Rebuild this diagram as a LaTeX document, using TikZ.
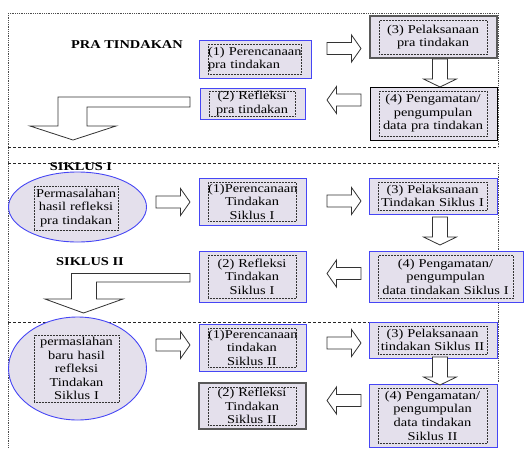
\documentclass[tikz,border=0pt]{standalone}
\usepackage{fontspec}
\setmainfont[FakeStretch=1.2]{Liberation Serif}
\usetikzlibrary{shapes.geometric}
\hyphenpenalty=10000
\exhyphenpenalty=10000
\definecolor{boxfill}{RGB}{228,224,236}
\definecolor{boxblue}{RGB}{70,70,245}
\tikzset{
  outerbox/.style={rectangle, fill=boxfill, line width=0.9pt, inner sep=0pt},
  bluebox/.style={draw=boxblue},
  darkbox/.style={draw=black!65, line width=1.2pt},
  blackbox/.style={draw=black, line width=1pt},
  innerbox/.style={rectangle, draw=black!80, densely dotted, line width=0.5pt, inner sep=0pt, font=\fontsize{12}{13.6}\selectfont},
  blk/.style={draw=black!80, fill=white, line width=0.8pt, line join=miter},
  sect/.style={dash pattern=on 3pt off 2pt, line width=0.6pt, black!85},
  edgeline/.style={densely dotted, line width=0.8pt, black!70},
  title/.style={font=\bfseries\fontsize{12}{13.6}\selectfont, inner sep=0pt},
  oval/.style={ellipse, draw=boxblue, fill=boxfill, line width=0.9pt, inner sep=0pt},
}
\newcommand\tbox[8]{%
  \pgfmathsetmacro\tbcx{(#2+#4)/2}%
  \pgfmathsetmacro\tbcy{(#3+#5)/2}%
  \pgfmathsetmacro\tbw{#4-#2}%
  \pgfmathsetmacro\tbh{#5-#3}%
  \pgfmathsetmacro\tbiw{#4-#2-19}%
  \pgfmathsetmacro\tbih{#5-#3-8}%
  \node[outerbox, #6, minimum width=\tbw pt, minimum height=\tbh pt] (#1) at (\tbcx,\tbcy) {};
  \node[innerbox, text width=\tbiw pt, minimum height=\tbih pt, align=#8] (#1t) at ([xshift=-0.5pt]#1.center) {#7};
}
\newcommand\rarr[2]{\draw[blk, shift={(#1,#2)}] (-17,-6) -- (7.5,-6) -- (7.5,-13.5) -- (17,0) -- (7.5,13.5) -- (7.5,6) -- (-17,6) -- cycle;}
\newcommand\larr[2]{\draw[blk, shift={(#1,#2)}, xscale=-1] (-17,-6) -- (7.5,-6) -- (7.5,-13.5) -- (17,0) -- (7.5,13.5) -- (7.5,6) -- (-17,6) -- cycle;}
\newcommand\darr[2]{\draw[blk, shift={(#1,#2)}] (-7.5,-14) -- (7.5,-14) -- (7.5,6) -- (16.5,6) -- (0,14) -- (-16.5,6) -- (-7.5,6) -- cycle;}
\begin{document}
\begin{tikzpicture}[x=1pt,y=-1pt]
\useasboundingbox (0,0) rectangle (525,448);
% section frames
\draw[edgeline] (8,13) -- (498,13);
\draw[edgeline] (8,13) -- (8,448);
\draw[edgeline] (498,13) -- (498,147);
\draw[sect] (8,147) -- (498,147);
\draw[sect] (8,163) -- (498,163);
\draw[edgeline] (498,163) -- (498,322);
\draw[sect] (8,322) -- (498,322);
\draw[edgeline] (498,322) -- (498,382);
% titles
\node[title] (tpra) at (127,45) {PRA TINDAKAN};
\node[title] (ts1) at (81,167) {SIKLUS I};
\node[title] (ts2) at (90,262) {SIKLUS II};
% PRA TINDAKAN
\tbox{p1}{199}{40}{311}{78}{bluebox}{\mbox{(1) Perencanaan}\\pra tindakan}{left}
\tbox{p3}{370}{16}{497}{58}{darkbox}{(3) Pelaksanaan\\pra tindakan}{center}
\tbox{p4}{370}{87}{497}{140}{blackbox}{(4) Pengamatan/\\pengumpulan\\data pra tindakan}{center}
\tbox{p2}{200}{88}{305}{119}{bluebox}{(2) Refleksi\\pra tindakan}{center}
\rarr{344}{48.5}
\darr{440}{73}
\larr{344}{100}
\draw[blk] (58,97) -- (190,97) -- (190,107) -- (87,107) -- (87,126) -- (116,126) -- (73,140) -- (30,126) -- (58,126) -- cycle;
% SIKLUS I
\node[oval, minimum width=138pt, minimum height=70pt] (e1) at (77.5,207) {};
\node[innerbox, text width=84pt, minimum height=44pt, align=center] (e1t) at (76,208) {Permasalahan\\hasil refleksi\\pra tindakan};
\tbox{s1a}{199}{178}{306}{225}{bluebox}{(1)Perencanaan\\Tindakan\\Siklus I}{center}
\tbox{s1c}{369}{178}{497}{214}{bluebox}{(3) Pelaksanaan\\Tindakan Siklus I}{center}
\tbox{s1d}{369}{251}{523}{302}{bluebox}{(4) Pengamatan/\\pengumpulan\\data tindakan Siklus I}{center}
\tbox{s1b}{199}{251}{306}{302}{bluebox}{(2) Refleksi\\Tindakan\\Siklus I}{center}
\rarr{173}{202}
\rarr{344}{201}
\darr{440}{231}
\larr{344}{273.5}
\draw[blk] (71.5,273.5) -- (190,273.5) -- (190,282) -- (96.5,282) -- (96.5,299) -- (123,299) -- (83.5,313) -- (45,299) -- (71.5,299) -- cycle;
% SIKLUS II
\node[oval, minimum width=138pt, minimum height=103pt] (e2) at (77.5,368.5) {};
\node[innerbox, text width=85pt, minimum height=67pt, align=center] (e2t) at (76.5,368.5) {permaslahan\\baru hasil\\refleksi\\Tindakan\\Siklus I};
\tbox{s2a}{199}{324}{306}{371}{bluebox}{(1)Perencanaan\\tindakan\\Siklus II}{center}
\tbox{s2c}{369}{322}{497}{358}{bluebox}{(3) Pelaksanaan\\tindakan Siklus II}{center}
\tbox{s2d}{369}{384}{497}{447}{bluebox}{(4) Pengamatan/\\pengumpulan\\data tindakan\\Siklus II}{center}
\tbox{s2b}{199}{383}{306}{429}{darkbox}{(2) Refleksi\\Tindakan\\Siklus II}{center}
\rarr{173}{345}
\rarr{344}{343}
\darr{440}{371}
\larr{344}{400.5}
\end{tikzpicture}
\end{document}
